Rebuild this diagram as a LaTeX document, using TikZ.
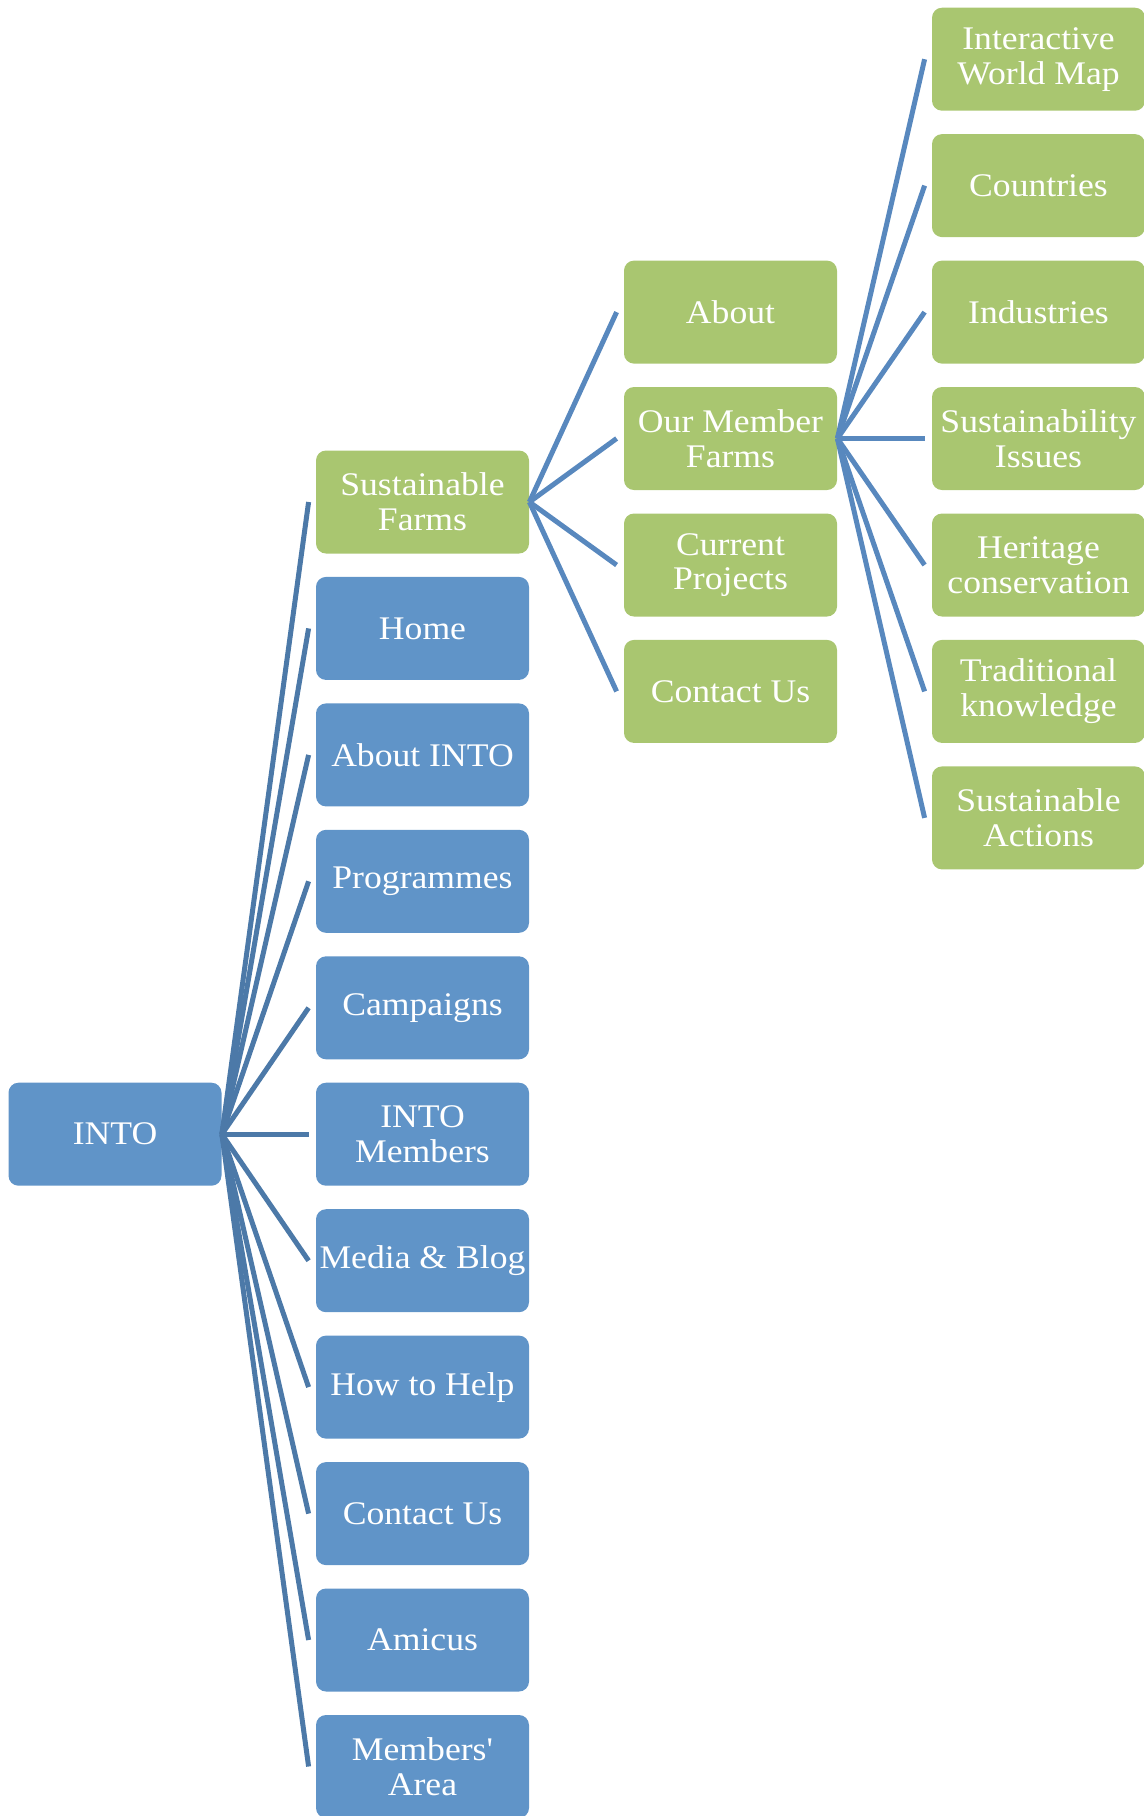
\documentclass[tikz,border=0pt]{standalone}
\usepackage{fontspec}
\setmainfont{Liberation Serif}[FakeStretch=1.08,Ligatures=TeXOff]
\usepackage{xcolor}
\definecolor{boxblue}{RGB}{96,148,200}
\definecolor{boxgreen}{RGB}{169,198,112}
\definecolor{linkdark}{RGB}{76,121,168}
\definecolor{linklight}{RGB}{88,136,190}

\begin{document}
\begin{tikzpicture}[x=0.5pt,y=-0.5pt,
    menu/.style={rounded corners=5pt,minimum width=106.5pt,minimum height=51.5pt,
        inner sep=0pt,align=center,text=white,font=\fontsize{16.5}{17.4}\selectfont},
    topmenu/.style={menu,fill=boxblue},
    submenu/.style={menu,fill=boxgreen},
    link/.style={line width=2.5pt,draw=linklight}]
    \useasboundingbox (0,0) rectangle (1144,1816);

    % root
    \node[topmenu] (into) at (115,1134.2) {INTO};

    % main menu
    \node[submenu] (farms) at (422.5,502) {Sustainable\\Farms};
    \node[topmenu] (home) at (422.5,628.4) {Home};
    \node[topmenu] (aboutinto) at (422.5,754.9) {About INTO};
    \node[topmenu] (progs) at (422.5,881.3) {Programmes};
    \node[topmenu] (campaigns) at (422.5,1007.8) {Campaigns};
    \node[topmenu] (members) at (422.5,1134.2) {INTO\\Members};
    \node[topmenu] (media) at (422.5,1260.7) {Media \& Blog};
    \node[topmenu] (help) at (422.5,1387.1) {How to Help};
    \node[topmenu] (contact) at (422.5,1513.6) {Contact Us};
    \node[topmenu] (amicus) at (422.5,1640) {Amicus};
    \node[topmenu] (area) at (422.5,1766.5) {Members'\\Area};

    % sustainable farms
    \node[submenu] (about) at (730.5,312.1) {About};
    \node[submenu] (ourfarms) at (730.5,438.5) {Our Member\\Farms};
    \node[submenu] (projects) at (730.5,565) {Current\\Projects};
    \node[submenu] (contactus) at (730.5,691.4) {Contact Us};

    % our member farms
    \node[submenu] (map) at (1038.5,59.2) {Interactive\\World Map};
    \node[submenu] (countries) at (1038.5,185.6) {Countries};
    \node[submenu] (industries) at (1038.5,312.1) {Industries};
    \node[submenu] (issues) at (1038.5,438.5) {Sustainability\\Issues};
    \node[submenu] (heritage) at (1038.5,565) {Heritage\\conservation};
    \node[submenu] (knowledge) at (1038.5,691.4) {Traditional\\knowledge};
    \node[submenu] (actions) at (1038.5,817.9) {Sustainable\\Actions};

    % connectors
    \foreach \n in {farms,home,aboutinto,progs,campaigns,members,media,help,contact,amicus,area}
        \draw[link,draw=linkdark] (into.east) -- ([xshift=-3.5pt]\n.west);
    \foreach \n in {about,ourfarms,projects,contactus}
        \draw[link] (farms.east) -- ([xshift=-3.5pt]\n.west);
    \foreach \n in {map,countries,industries,issues,heritage,knowledge,actions}
        \draw[link] (ourfarms.east) -- ([xshift=-3.5pt]\n.west);
\end{tikzpicture}
\end{document}
